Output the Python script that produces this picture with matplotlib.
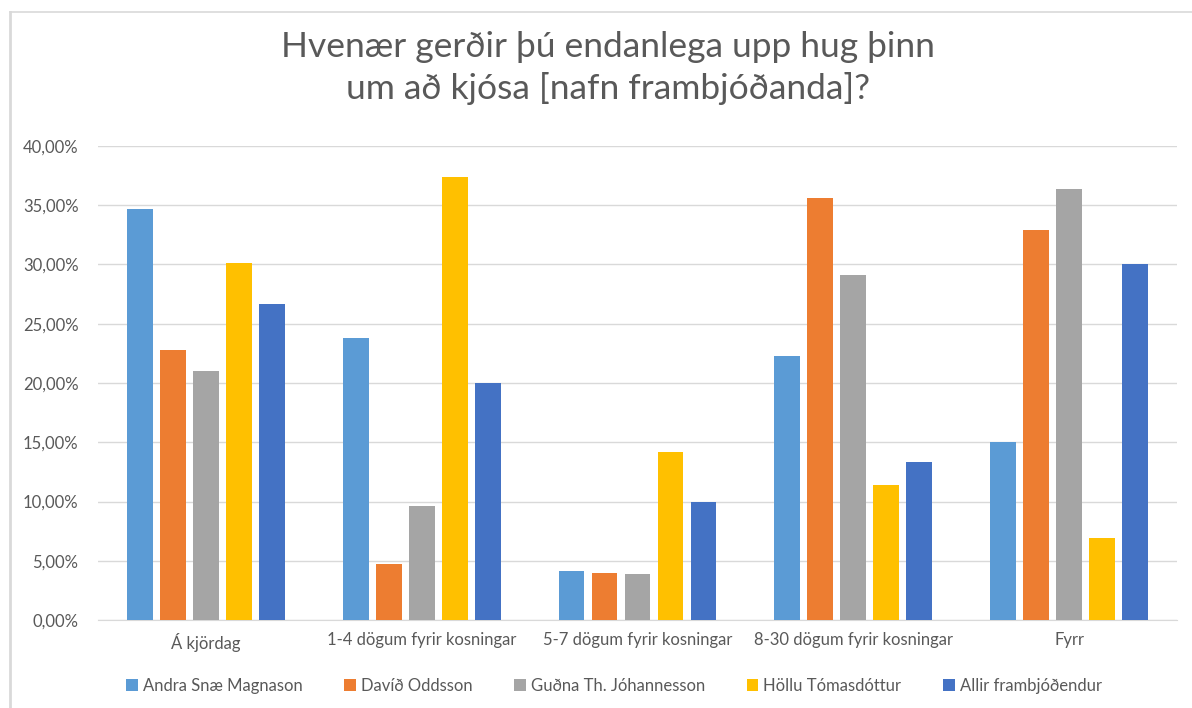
import matplotlib.pyplot as plt
import numpy as np
from matplotlib.lines import Line2D

plt.rcParams['font.family'] = ['Lato', 'DejaVu Sans']

# data
categories = ["Á kjördag", "1-4 dögum fyrir kosningar", "5-7 dögum fyrir kosningar",
              "8-30 dögum fyrir kosningar", "Fyrr"]
series_names = ["Andra Snæ Magnason", "Davíð Oddsson", "Guðna Th. Jóhannesson",
                "Höllu Tómasdóttur", "Allir frambjóðendur"]
andri = [34.7, 23.8, 4.1, 22.3, 15.0]
david = [22.8, 4.7, 4.0, 35.6, 32.9]
gudni = [21.0, 9.6, 3.9, 29.1, 36.4]
halla = [30.1, 37.4, 14.2, 11.4, 6.9]
allir = [26.7, 20.0, 10.0, 13.3, 30.0]
colors = ["#5B9BD5", "#ED7D31", "#A5A5A5", "#FFC000", "#4472C4"]

values = [andri, david, gudni, halla, allir]

fig = plt.figure(figsize=(11.92, 7.08), dpi=100)
ax = fig.add_axes([98 / 1192, 1 - 620 / 708, (1177 - 98) / 1192, (620 - 146) / 708])

x = np.arange(len(categories))
step = 0.153
width = 0.12
for i, (vals, name, c) in enumerate(zip(values, series_names, colors)):
    ax.bar(x + (i - 2) * step, vals, width, color=c, label=name, zorder=3)

ax.set_xlim(-0.5, 4.5)
ax.set_ylim(0, 40)
ax.set_yticks(np.arange(0, 41, 5))
ax.set_yticklabels([f"{v:.2f}%".replace(".", ",") for v in np.arange(0, 41, 5)])
ax.set_xticks(x)
ax.set_xticklabels(categories)
ax.tick_params(axis='both', length=0, labelsize=12, colors="#595959")
ax.tick_params(axis='y', pad=14)
ax.tick_params(axis='x', pad=9)
ax.grid(axis='y', color="#D9D9D9", linewidth=1, zorder=0)
for s in ["top", "right", "left"]:
    ax.spines[s].set_visible(False)
ax.spines["bottom"].set_color("#D9D9D9")

fig.text(0.51, 1 - 68 / 708, "Hvenær gerðir þú endanlega upp hug þinn\num að kjósa [nafn frambjóðanda]?",
         ha='center', va='center', fontsize=25.5, color="#595959", linespacing=1.35)

leg = fig.legend(loc='center', bbox_to_anchor=(0.515, 1 - 686 / 708), ncol=5, frameon=False,
                 fontsize=12, handlelength=0.7, handleheight=0.7, columnspacing=2.5,
                 handletextpad=0.3)
for t in leg.get_texts():
    t.set_color("#595959")

# chart frame
fig.add_artist(Line2D([10 / 1192, 10 / 1192], [0, 1 - 12 / 708], color="#D9D9D9", linewidth=2,
                      transform=fig.transFigure))
fig.add_artist(Line2D([10 / 1192, 1], [1 - 12 / 708, 1 - 12 / 708], color="#D9D9D9", linewidth=1.2,
                      transform=fig.transFigure))

fig.savefig("out.png", dpi=100)
